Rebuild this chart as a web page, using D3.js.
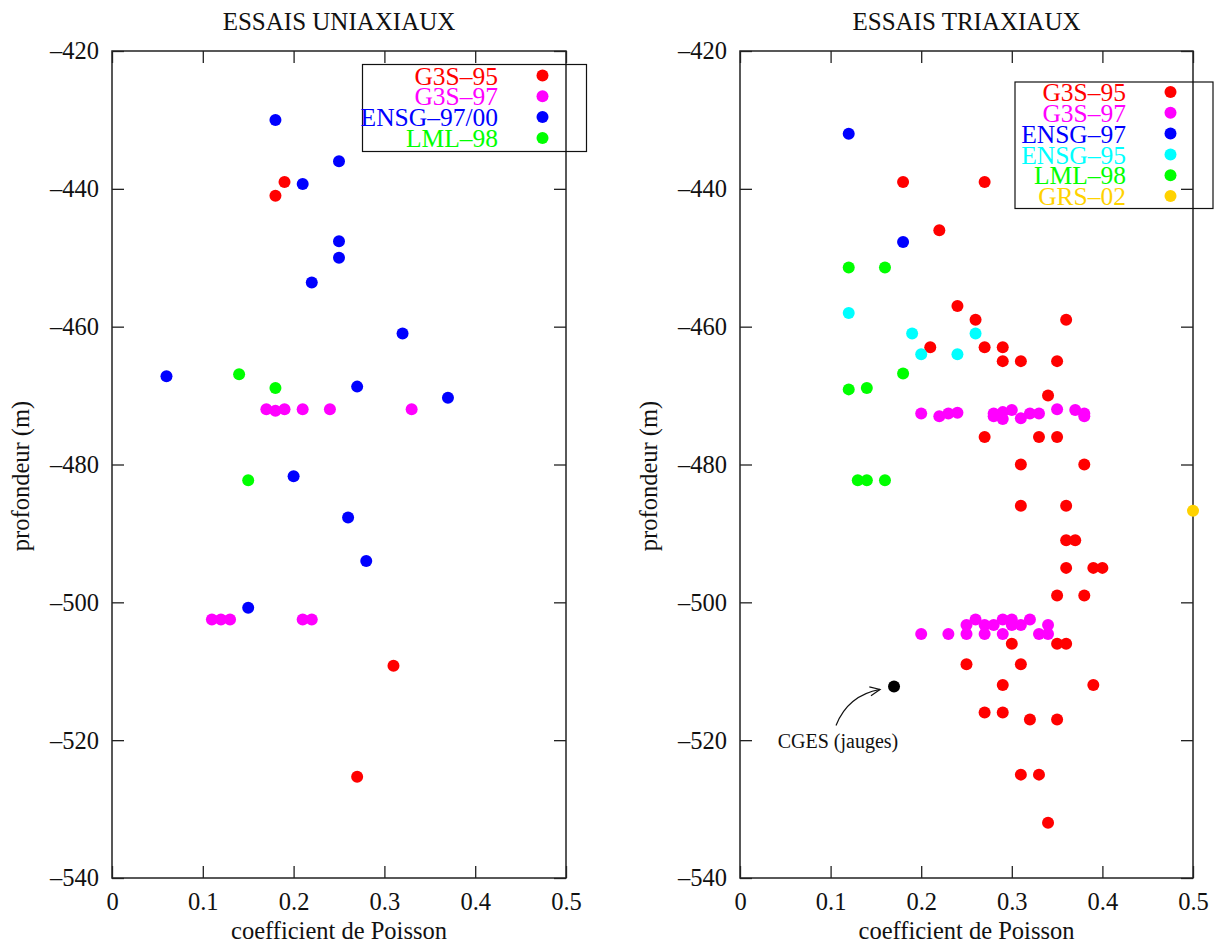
<!DOCTYPE html>
<html>
<head>
<meta charset="utf-8">
<script src="https://cdn.jsdelivr.net/npm/d3@7"></script>
<style>
  html, body { margin: 0; padding: 0; background: #fff; }
  svg { display: block; font-family: "Liberation Serif", "DejaVu Serif", serif; }
</style>
</head>
<body>
<svg id="chart" width="1216" height="944"></svg>
<script>
// ---------- DATA ----------
const xTicks = [0, 0.1, 0.2, 0.3, 0.4, 0.5];
const yTicks = [-540, -520, -500, -480, -460, -440, -420];
const xLabel = "coefficient de Poisson";
const yLabel = "profondeur (m)";
const titleUni = "ESSAIS UNIAXIAUX";
const titleTri = "ESSAIS TRIAXIAUX";

// Uniaxial tests
const uniG3S95 = [[0.19,-439],[0.18,-441],[0.31,-509.2],[0.27,-525.3]];
const uniG3S97 = [[0.17,-472],[0.18,-472.2],[0.19,-472],[0.21,-472],[0.24,-472],[0.33,-472],
                  [0.11,-502.5],[0.12,-502.5],[0.13,-502.5],[0.21,-502.5],[0.22,-502.5]];
const uniENSG = [[0.18,-430],[0.25,-436],[0.21,-439.3],[0.25,-447.6],[0.25,-450],[0.22,-453.6],
                 [0.32,-461],[0.06,-467.2],[0.27,-468.7],[0.37,-470.3],[0.20,-481.7],[0.26,-487.7],
                 [0.28,-494],[0.15,-500.8]];
const uniLML98 = [[0.14,-466.9],[0.18,-468.9],[0.15,-482.3]];

// Triaxial tests
const triG3S95 = [[0.18,-439],[0.27,-439],[0.22,-446],[0.24,-457],[0.26,-459],[0.36,-459],
                  [0.21,-463],[0.27,-463],[0.29,-463],[0.29,-465],[0.31,-465],[0.35,-465],
                  [0.34,-470],[0.27,-476],[0.33,-476],[0.35,-476],[0.31,-480],[0.38,-480],
                  [0.31,-486],[0.36,-486],[0.36,-491],[0.37,-491],[0.36,-495],[0.39,-495],
                  [0.40,-495],[0.35,-499],[0.38,-499],[0.30,-506],[0.35,-506],[0.36,-506],
                  [0.25,-509],[0.31,-509],[0.29,-512],[0.39,-512],[0.27,-516],[0.29,-516],
                  [0.32,-517],[0.35,-517],[0.31,-525],[0.33,-525],[0.34,-532]];
const triG3S97 = [[0.20,-472.6],[0.22,-473],[0.23,-472.6],[0.24,-472.5],[0.28,-472.6],[0.28,-473],
                  [0.29,-472.4],[0.29,-473.4],[0.30,-472.1],[0.31,-473.3],[0.32,-472.6],[0.33,-472.6],
                  [0.35,-472],[0.37,-472.1],[0.38,-472.6],[0.38,-473],
                  [0.20,-504.6],[0.23,-504.6],[0.25,-503.3],[0.25,-504.6],[0.26,-502.5],[0.27,-503.3],
                  [0.27,-504.6],[0.28,-503.3],[0.29,-502.5],[0.29,-504.6],[0.30,-502.5],[0.30,-503.3],
                  [0.31,-503.3],[0.32,-502.5],[0.33,-504.6],[0.34,-503.3],[0.34,-504.6]];
const triENSG97 = [[0.12,-432],[0.18,-447.7]];
const triENSG95 = [[0.12,-458],[0.19,-461],[0.26,-461],[0.20,-464],[0.24,-464]];
const triLML98 = [[0.12,-451.4],[0.16,-451.4],[0.18,-466.8],[0.12,-469.1],[0.14,-468.9],
                  [0.13,-482.3],[0.14,-482.3],[0.16,-482.3]];
const triGRS02 = [[0.5,-486.7]];
const triCGES = [[0.17,-512.2]];
const cgesNote = "CGES (jauges)";

const uniSeries = [
  {name: "G3S–95", color: "#ff0000", data: uniG3S95},
  {name: "G3S–97", color: "#ff00ff", data: uniG3S97},
  {name: "ENSG–97/00", color: "#0000ff", data: uniENSG},
  {name: "LML–98", color: "#00ff00", data: uniLML98}
];
const triSeries = [
  {name: "G3S–95", color: "#ff0000", data: triG3S95},
  {name: "G3S–97", color: "#ff00ff", data: triG3S97},
  {name: "ENSG–97", color: "#0000ff", data: triENSG97},
  {name: "ENSG–95", color: "#00ffff", data: triENSG95},
  {name: "LML–98", color: "#00ff00", data: triLML98},
  {name: "GRS–02", color: "#ffd200", data: triGRS02}
];

// ---------- DRAW ----------
const svg = d3.select("#chart");
const fmtY = d => "–" + Math.abs(d);
const fmtX = d => d === 0 ? "0" : d3.format(".1f")(d);
const R = 6;

function panel(cfg) {
  const x = d3.scaleLinear().domain([0, 0.5]).range([cfg.x0, cfg.x1]);
  const y = d3.scaleLinear().domain([-540, -420]).range([cfg.y1, cfg.y0]);
  const g = svg.append("g");

  const ax = (gen, tr) => g.append("g").attr("transform", tr).call(gen)
      .call(s => s.select(".domain").remove())
      .call(s => s.selectAll(".tick line").attr("stroke", "#222").attr("stroke-width", 1.3));

  ax(d3.axisBottom(x).tickValues(xTicks).tickSize(-12).tickPadding(15).tickFormat(fmtX), `translate(0,${cfg.y1})`)
    .selectAll("text").attr("font-size", 24.5).attr("font-family", "Liberation Serif").attr("fill", "#111");
  ax(d3.axisTop(x).tickValues(xTicks).tickSize(-12).tickFormat(""), `translate(0,${cfg.y0})`);
  ax(d3.axisLeft(y).tickValues(yTicks).tickSize(-12).tickPadding(13).tickFormat(fmtY), `translate(${cfg.x0},0)`)
    .selectAll("text").attr("font-size", 24.5).attr("font-family", "Liberation Serif").attr("fill", "#111");
  ax(d3.axisRight(y).tickValues(yTicks).tickSize(-12).tickFormat(""), `translate(${cfg.x1},0)`);

  g.append("rect").attr("x", cfg.x0).attr("y", cfg.y0)
    .attr("width", cfg.x1 - cfg.x0).attr("height", cfg.y1 - cfg.y0)
    .attr("fill", "none").attr("stroke", "#222").attr("stroke-width", 1.5);

  g.append("text").attr("x", (cfg.x0 + cfg.x1) / 2).attr("y", 30)
    .attr("text-anchor", "middle").attr("font-size", 25).attr("fill", "#111").text(cfg.title);
  g.append("text").attr("x", (cfg.x0 + cfg.x1) / 2).attr("y", 939)
    .attr("text-anchor", "middle").attr("font-size", 24.5).attr("fill", "#111").text(xLabel);
  g.append("text").attr("transform", `translate(${cfg.x0 - 83},476) rotate(-90)`)
    .attr("text-anchor", "middle").attr("font-size", 24.5).attr("fill", "#111").text(yLabel);

  cfg.series.forEach(s => {
    g.append("g").selectAll("circle").data(s.data).join("circle")
      .attr("cx", d => x(d[0])).attr("cy", d => y(d[1])).attr("r", R).attr("fill", s.color);
  });

  const L = cfg.legend;
  g.append("rect").attr("x", L.x0).attr("y", L.y0).attr("width", L.x1 - L.x0).attr("height", L.y1 - L.y0)
    .attr("fill", "none").attr("stroke", "#111").attr("stroke-width", 1.2);
  cfg.series.forEach((s, i) => {
    const yy = L.first + i * L.step;
    g.append("text").attr("x", L.textX).attr("y", yy).attr("dy", "0.36em")
      .attr("text-anchor", "end").attr("font-size", 25.5).attr("fill", s.color).text(s.name);
    g.append("circle").attr("cx", L.dotX).attr("cy", yy).attr("r", R).attr("fill", s.color);
  });
  return {x, y, g};
}

panel({x0: 112, x1: 566, y0: 51, y1: 878, title: titleUni, series: uniSeries,
       legend: {x0: 362.5, x1: 586.5, y0: 64.5, y1: 151.5, textX: 498, dotX: 542.5, first: 75.5, step: 20.8}});

const tri = panel({x0: 740, x1: 1193, y0: 51, y1: 878, title: titleTri, series: triSeries,
       legend: {x0: 1015, x1: 1213, y0: 82, y1: 208.5, textX: 1126, dotX: 1170.5, first: 92, step: 20.8}});

// CGES point and annotation
tri.g.append("g").selectAll("circle").data(triCGES).join("circle")
  .attr("cx", d => tri.x(d[0])).attr("cy", d => tri.y(d[1])).attr("r", R).attr("fill", "#000");

const px = tri.x(triCGES[0][0]), py = tri.y(triCGES[0][1]);
const ax0 = px - 58, ay0 = py + 39, ax1 = px - 14, ay1 = py + 3;
const cx = ax0 + 12, cy = ay0 - 30;
tri.g.append("path")
  .attr("d", `M${ax0},${ay0} Q${cx},${cy} ${ax1},${ay1}`)
  .attr("fill", "none").attr("stroke", "#111").attr("stroke-width", 1.2);
const ang = Math.atan2(ay1 - cy, ax1 - cx);
const hl = 11, ha = 0.42;
tri.g.append("path")
  .attr("d", `M${ax1 - hl * Math.cos(ang - ha)},${ay1 - hl * Math.sin(ang - ha)} L${ax1},${ay1} L${ax1 - hl * Math.cos(ang + ha)},${ay1 - hl * Math.sin(ang + ha)}`)
  .attr("fill", "none").attr("stroke", "#111").attr("stroke-width", 1.2);
tri.g.append("text").attr("x", px - 56).attr("y", 748)
  .attr("text-anchor", "middle").attr("font-size", 20).attr("fill", "#111").text(cgesNote);
</script>
</body>
</html>
